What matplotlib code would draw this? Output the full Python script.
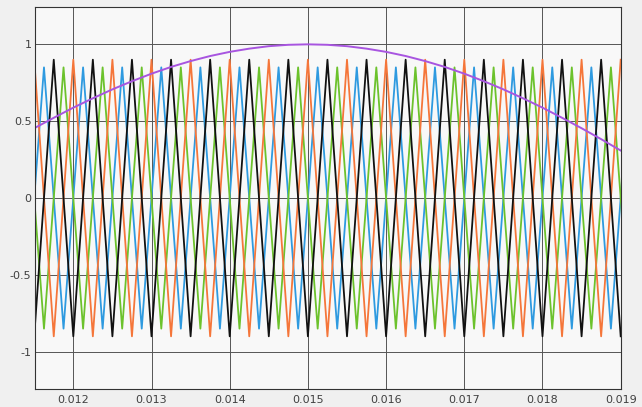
import matplotlib.pyplot as plt

# vertex times of the carriers (s)
t_a = [0.0115, 0.01175, 0.012, 0.01225, 0.0125, 0.01275, 0.013, 0.01325,
       0.0135, 0.01375, 0.014, 0.01425, 0.0145, 0.01475, 0.015, 0.01525,
       0.0155, 0.01575, 0.016, 0.01625, 0.0165, 0.01675, 0.017, 0.01725,
       0.0175, 0.01775, 0.018, 0.01825, 0.0185, 0.01875, 0.019]
t_b = [0.011375, 0.011625, 0.011875, 0.012125, 0.012375, 0.012625, 0.012875,
       0.013125, 0.013375, 0.013625, 0.013875, 0.014125, 0.014375, 0.014625,
       0.014875, 0.015125, 0.015375, 0.015625, 0.015875, 0.016125, 0.016375,
       0.016625, 0.016875, 0.017125, 0.017375, 0.017625, 0.017875, 0.018125,
       0.018375, 0.018625, 0.018875, 0.019125]

orange = [0.9, -0.9, 0.9, -0.9, 0.9, -0.9, 0.9, -0.9, 0.9, -0.9, 0.9, -0.9,
          0.9, -0.9, 0.9, -0.9, 0.9, -0.9, 0.9, -0.9, 0.9, -0.9, 0.9, -0.9,
          0.9, -0.9, 0.9, -0.9, 0.9, -0.9, 0.9]
black = [-0.9, 0.9, -0.9, 0.9, -0.9, 0.9, -0.9, 0.9, -0.9, 0.9, -0.9, 0.9,
         -0.9, 0.9, -0.9, 0.9, -0.9, 0.9, -0.9, 0.9, -0.9, 0.9, -0.9, 0.9,
         -0.9, 0.9, -0.9, 0.9, -0.9, 0.9, -0.9]
blue = [-0.85, 0.85, -0.85, 0.85, -0.85, 0.85, -0.85, 0.85, -0.85, 0.85,
        -0.85, 0.85, -0.85, 0.85, -0.85, 0.85, -0.85, 0.85, -0.85, 0.85,
        -0.85, 0.85, -0.85, 0.85, -0.85, 0.85, -0.85, 0.85, -0.85, 0.85,
        -0.85, 0.85]
green = [0.85, -0.85, 0.85, -0.85, 0.85, -0.85, 0.85, -0.85, 0.85, -0.85,
         0.85, -0.85, 0.85, -0.85, 0.85, -0.85, 0.85, -0.85, 0.85, -0.85,
         0.85, -0.85, 0.85, -0.85, 0.85, -0.85, 0.85, -0.85, 0.85, -0.85,
         0.85, -0.85]

# reference (modulating) signal
t_ref = [0.0115, 0.01175, 0.012, 0.01225, 0.0125, 0.01275, 0.013, 0.01325,
         0.0135, 0.01375, 0.014, 0.01425, 0.0145, 0.01475, 0.015, 0.01525,
         0.0155, 0.01575, 0.016, 0.01625, 0.0165, 0.01675, 0.017, 0.01725,
         0.0175, 0.01775, 0.018, 0.01825, 0.0185, 0.01875, 0.019]
ref = [0.454, 0.522, 0.588, 0.649, 0.707, 0.760, 0.809, 0.853, 0.891, 0.924,
       0.951, 0.972, 0.988, 0.997, 1.0, 0.997, 0.988, 0.972, 0.951, 0.924,
       0.891, 0.853, 0.809, 0.760, 0.707, 0.649, 0.588, 0.522, 0.454, 0.383,
       0.309]

xticks = [0.012, 0.013, 0.014, 0.015, 0.016, 0.017, 0.018, 0.019]
xlabels = ["0.012", "0.013", "0.014", "0.015", "0.016", "0.017", "0.018", "0.019"]
yticks = [-1, -0.5, 0, 0.5, 1]
ylabels = ["-1", "-0.5", "0", "0.5", "1"]

fig = plt.figure(figsize=(6.42, 4.07), dpi=100, facecolor="#f0f0f0")
ax = fig.add_axes([0.0545, 0.0442, 0.9123, 0.9386])
ax.set_facecolor("#f8f8f8")

ax.plot(t_b, blue, color="#2e9ae0", lw=1.3)
ax.plot(t_b, green, color="#6cc22c", lw=1.3)
ax.plot(t_a, orange, color="#f5763a", lw=1.3)
ax.plot(t_a, black, color="#111111", lw=1.3)
ax.plot(t_ref, ref, color="#a855e0", lw=1.4)

ax.set_xlim(0.01151, 0.019)
ax.set_ylim(-1.243, 1.243)
ax.set_xticks(xticks)
ax.set_xticklabels(xlabels)
ax.set_yticks(yticks)
ax.set_yticklabels(ylabels)
ax.grid(True, color="#555555", lw=0.7)
ax.set_axisbelow(True)
ax.tick_params(length=0, labelsize=8, labelcolor="#404040")
ax.tick_params(axis="x", pad=4)
ax.tick_params(axis="y", pad=2.5)
for s in ax.spines.values():
    s.set_color("#333333")
    s.set_linewidth(0.8)

fig.savefig("out.png", dpi=100, facecolor=fig.get_facecolor())
